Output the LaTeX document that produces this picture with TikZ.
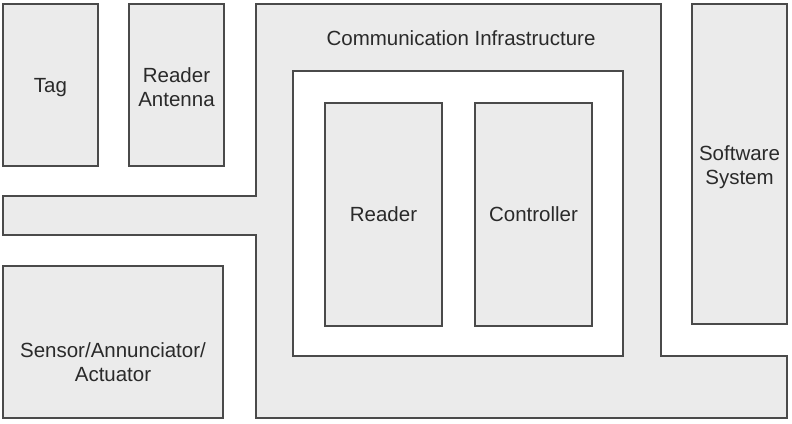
\documentclass[tikz,border=0pt]{standalone}
\usepackage{fontspec}
\setmainfont{Liberation Sans}
\definecolor{boxfill}{HTML}{EBEBEB}
\definecolor{boxline}{HTML}{4A4A4A}
\definecolor{txt}{HTML}{2A2A2A}
\tikzset{
  blk/.style={draw=boxline, fill=boxfill, line width=1.4pt, rectangle, inner sep=0pt},
  lbl/.style={text=txt, font=\fontsize{20.5}{24.5}\selectfont, align=center, inner sep=0pt},
}
\begin{document}
\begin{tikzpicture}[x=1pt,y=-1pt]
\useasboundingbox (0,0) rectangle (792,423);
% Communication infrastructure shape
\draw[blk] (256,4) -- (661,4) -- (661,356) -- (787,356) -- (787,418) -- (256,418) -- (256,235) -- (3,235) -- (3,196) -- (256,196) -- cycle;
\node[lbl] (comm) at (461,38) {Communication Infrastructure};
% inner white area
\node[draw=boxline, fill=white, line width=1.4pt, minimum width=330pt, minimum height=285pt, inner sep=0pt] (inner) at (458,213.5) {};
% boxes
\node[blk, minimum width=95pt, minimum height=162pt] (tag) at (50.5,85) {};
\node[lbl, yshift=-3pt] (taglbl) at (tag.center) {Tag};
\node[blk, minimum width=95pt, minimum height=162pt] (ant) at (176.5,85) {};
\node[lbl, yshift=-2pt] (antlbl) at (ant.center) {Reader\\Antenna};
\node[blk, minimum width=117pt, minimum height=223pt] (reader) at (383.5,214.5) {};
\node[lbl] (readerlbl) at (reader.center) {Reader};
\node[blk, minimum width=117pt, minimum height=223pt] (ctrl) at (533.5,214.5) {};
\node[lbl] (ctrllbl) at (ctrl.center) {Controller};
\node[blk, minimum width=95pt, minimum height=320pt] (sw) at (739.5,164) {};
\node[lbl, yshift=-3pt] (swlbl) at (sw.center) {Software\\System};
\node[blk, minimum width=220pt, minimum height=152pt] (sensor) at (113,342) {};
\node[lbl] (sensorlbl) at (113,362) {Sensor/Annunciator/\\Actuator};
\end{tikzpicture}
\end{document}
